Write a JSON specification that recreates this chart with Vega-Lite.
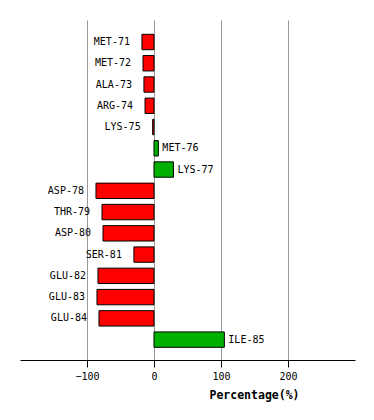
{
  "$schema": "https://vega.github.io/schema/vega-lite/v6.json",
  "width": 335,
  "height": 340,
  "autosize": {"type": "none"},
  "padding": {"left": 20, "top": 20, "right": 19, "bottom": 60},
  "background": "white",
  "config": {"view": {"stroke": null}, "font": "DejaVu Sans Mono"},
  "data": {"values": [
    {"residue": "MET-71", "value": -18},
    {"residue": "MET-72", "value": -16.4},
    {"residue": "ALA-73", "value": -15},
    {"residue": "ARG-74", "value": -13.4},
    {"residue": "LYS-75", "value": -2},
    {"residue": "MET-76", "value": 6.5},
    {"residue": "LYS-77", "value": 29},
    {"residue": "ASP-78", "value": -86.6},
    {"residue": "THR-79", "value": -77.6},
    {"residue": "ASP-80", "value": -76.1},
    {"residue": "SER-81", "value": -30},
    {"residue": "GLU-82", "value": -83.6},
    {"residue": "GLU-83", "value": -85.1},
    {"residue": "GLU-84", "value": -82.1},
    {"residue": "ILE-85", "value": 105}
  ]},
  "encoding": {
    "y": {"field": "residue", "type": "nominal", "sort": null, "axis": null,
          "scale": {"paddingInner": 0.276, "paddingOuter": 0.635, "align": 0.53}},
    "x": {"field": "value", "type": "quantitative",
          "scale": {"domain": [-200, 300], "nice": false, "zero": false}}
  },
  "layer": [
    {
      "mark": {"type": "bar", "stroke": "black", "strokeWidth": 1},
      "encoding": {
        "x": {"field": "value", "type": "quantitative",
              "scale": {"domain": [-200, 300], "nice": false, "zero": false},
              "axis": {
                "values": [-100, 0, 100, 200],
                "grid": true, "gridColor": "#999999", "gridWidth": 1, "gridOpacity": 1,
                "domainColor": "black", "domainWidth": 1.2,
                "tickColor": "black", "tickSize": 7, "tickWidth": 1,
                "labelFont": "DejaVu Sans Mono", "labelFontSize": 10, "labelColor": "black",
                "labelPadding": 4,
                "title": "Percentage(%)",
                "titleFont": "DejaVu Sans Mono", "titleFontSize": 11.5, "titleFontWeight": "bold",
                "titleColor": "black",
                "titleX": 234, "titleY": 35, "titleAlign": "center", "titleBaseline": "middle",
                "titleAnchor": null
              }},
        "x2": {"datum": 0},
        "color": {"condition": {"test": "datum.value < 0", "value": "#ff0000"}, "value": "#00b000"}
      }
    },
    {
      "transform": [{"filter": "datum.value < 0"}],
      "mark": {"type": "text", "align": "right", "baseline": "middle", "dx": -12,
               "font": "DejaVu Sans Mono", "fontSize": 10, "color": "black"},
      "encoding": {"text": {"field": "residue"}}
    },
    {
      "transform": [{"filter": "datum.value >= 0"}],
      "mark": {"type": "text", "align": "left", "baseline": "middle", "dx": 4,
               "font": "DejaVu Sans Mono", "fontSize": 10, "color": "black"},
      "encoding": {"text": {"field": "residue"}}
    }
  ]
}
